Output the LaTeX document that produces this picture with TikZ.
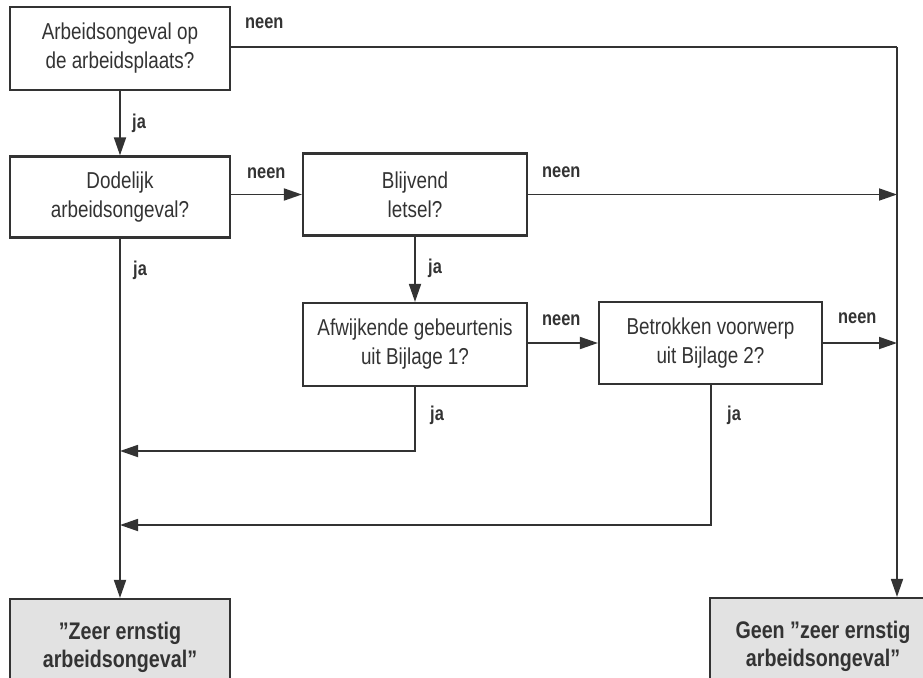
\documentclass[tikz,border=0pt]{standalone}
\usepackage{fontspec}
\setmainfont{Liberation Sans}[FakeStretch=0.82]
\usetikzlibrary{arrows.meta}
\definecolor{ink}{HTML}{333333}
\definecolor{endfill}{HTML}{E2E2E2}
\newcommand{\dq}{\symbol{34}}
\tikzset{
  qbox/.style={draw=ink, line width=2.2pt, align=center, inner sep=0pt,
    font=\fontsize{23}{29}\selectfont, text=ink},
  endbox/.style={qbox, fill=endfill, font=\bfseries\fontsize{24}{28}\selectfont},
  conn/.style={draw=ink, line width=1.8pt},
  arr/.style={conn, -{Triangle[length=18pt,width=12pt]}},
  lab/.style={font=\bfseries\fontsize{20}{22}\selectfont, text=ink, inner sep=0pt, anchor=base west}
}
\begin{document}
\begin{tikzpicture}[x=1pt,y=-1pt]
\useasboundingbox (0,0) rectangle (923,677);
\clip (0,0) rectangle (923,677);
\node[qbox, minimum width=220pt, minimum height=83pt] (b1) at (120,48.5) {Arbeidsongeval op\\de arbeidsplaats?};
\node[qbox, minimum width=220pt, minimum height=81pt] (b2) at (120,197) {Dodelijk\\arbeidsongeval?};
\node[qbox, minimum width=224pt, minimum height=82pt] (b3) at (415,194.5) {Blijvend\\letsel?};
\node[qbox, minimum width=224pt, minimum height=83pt] (b4) at (415,344.5) {Afwijkende gebeurtenis\\uit Bijlage 1?};
\node[qbox, minimum width=223pt, minimum height=82pt] (b5) at (710.5,343) {Betrokken voorwerp\\uit Bijlage 2?};
\node[endbox, minimum width=220pt, minimum height=96pt] (b6) at (120,647) {\dq Zeer ernstig\\arbeidsongeval\dq};
\node[endbox, minimum width=226pt, minimum height=96pt] (b7) at (823,646) {Geen \dq zeer ernstig\\arbeidsongeval\dq};
\coordinate (cR) at (897,47);
\coordinate (cA) at (415,451);
\coordinate (cB) at (711,525);
% connectors
\draw[arr] (b1.south) -- (b2.north);
\draw[conn] (b1.east |- cR) -- (cR);
\draw[arr] (cR) -- (cR |- b7.north);
\draw[arr] (b2.east |- b3.west) -- (b3.west);
\draw[arr] (b3.east) -- (b3.east -| cR);
\draw[arr] (b3.south) -- (b4.north);
\draw[arr] (b4.east |- b5.west) -- (b5.west);
\draw[arr] (b5.east) -- (b5.east -| cR);
\draw[arr] (b2.south) -- (b6.north);
\draw[arr] (b4.south) -- (cA) -- (cA -| b2.south);
\draw[arr] (b5.south -| cB) -- (cB) -- (cB -| b2.south);
% labels
\node[lab] (l1) at (245,29) {neen};
\node[lab] (l2) at (132,128) {ja};
\node[lab] (l3) at (247,178) {neen};
\node[lab] (l4) at (133,275) {ja};
\node[lab] (l5) at (542,177) {neen};
\node[lab] (l6) at (428,273) {ja};
\node[lab] (l7) at (542,325) {neen};
\node[lab] (l8) at (838,323) {neen};
\node[lab] (l9) at (430,420) {ja};
\node[lab] (l10) at (727,420) {ja};
\end{tikzpicture}
\end{document}
